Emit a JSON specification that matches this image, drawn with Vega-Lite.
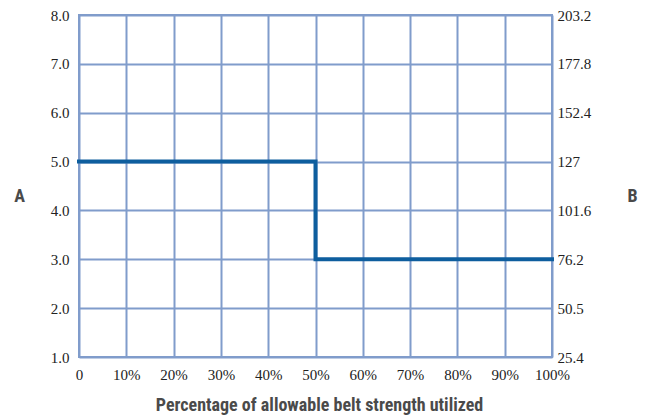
{
  "$schema": "https://vega.github.io/schema/vega-lite/v6.json",
  "width": 473,
  "height": 342,
  "autosize": "none",
  "padding": {"left": 79, "top": 15, "right": 94, "bottom": 58},
  "background": "white",
  "config": {
    "view": {"stroke": "#809ccb", "strokeWidth": 2},
    "axis": {
      "labelFont": "Liberation Serif",
      "labelFontSize": 15,
      "labelColor": "#222222",
      "titleFont": "Liberation Sans Narrow, Roboto Condensed, Roboto",
      "titleFontSize": 18,
      "titleFontWeight": "bold",
      "titleColor": "#4a4a4a",
      "gridColor": "#809ccb",
      "gridWidth": 2,
      "gridOpacity": 1,
      "domain": false,
      "ticks": false
    }
  },
  "data": {
    "values": [
      {"pct": 0, "val": 5, "ord": 1},
      {"pct": 50, "val": 5, "ord": 2},
      {"pct": 50, "val": 3, "ord": 3},
      {"pct": 100, "val": 3, "ord": 4}
    ]
  },
  "layer": [
    {
      "mark": {"type": "line", "color": "#0e5e9e", "strokeWidth": 4, "strokeCap": "square"},
      "encoding": {
        "x": {
          "field": "pct", "type": "quantitative",
          "scale": {"domain": [0, 100], "nice": false},
          "axis": {
            "values": [0, 10, 20, 30, 40, 50, 60, 70, 80, 90, 100],
            "labelExpr": "datum.value == 0 ? '0' : datum.value + '%'",
            "labelPadding": 10,
            "labelFlush": false,
            "title": "Percentage of allowable belt strength utilized",
            "titleX": 240,
            "titleY": 48,
            "titleAlign": "center",
            "titleBaseline": "middle"
          }
        },
        "y": {
          "field": "val", "type": "quantitative",
          "scale": {"domain": [1, 8], "nice": false, "zero": false},
          "axis": {
            "orient": "left",
            "values": [1, 2, 3, 4, 5, 6, 7, 8],
            "format": ".1f",
            "labelPadding": 10,
            "labelFlush": false,
            "title": "A",
            "titleAngle": 0,
            "titleX": -60,
            "titleY": 181,
            "titleAlign": "center",
            "titleBaseline": "middle"
          }
        },
        "order": {"field": "ord", "type": "quantitative"}
      }
    },
    {
      "mark": {"type": "line", "opacity": 0},
      "encoding": {
        "x": {"field": "pct", "type": "quantitative"},
        "y": {
          "field": "val", "type": "quantitative",
          "axis": {
            "orient": "right",
            "grid": false,
            "values": [1, 2, 3, 4, 5, 6, 7, 8],
            "labelExpr": "['','25.4','50.5','76.2','101.6','127','152.4','177.8','203.2'][datum.value]",
            "labelPadding": 5,
            "labelFlush": false,
            "title": "B",
            "titleAngle": 0,
            "titleX": 80,
            "titleY": 181,
            "titleAlign": "center",
            "titleBaseline": "middle"
          }
        },
        "order": {"field": "ord", "type": "quantitative"}
      }
    }
  ],
  "resolve": {"axis": {"y": "independent"}}
}
